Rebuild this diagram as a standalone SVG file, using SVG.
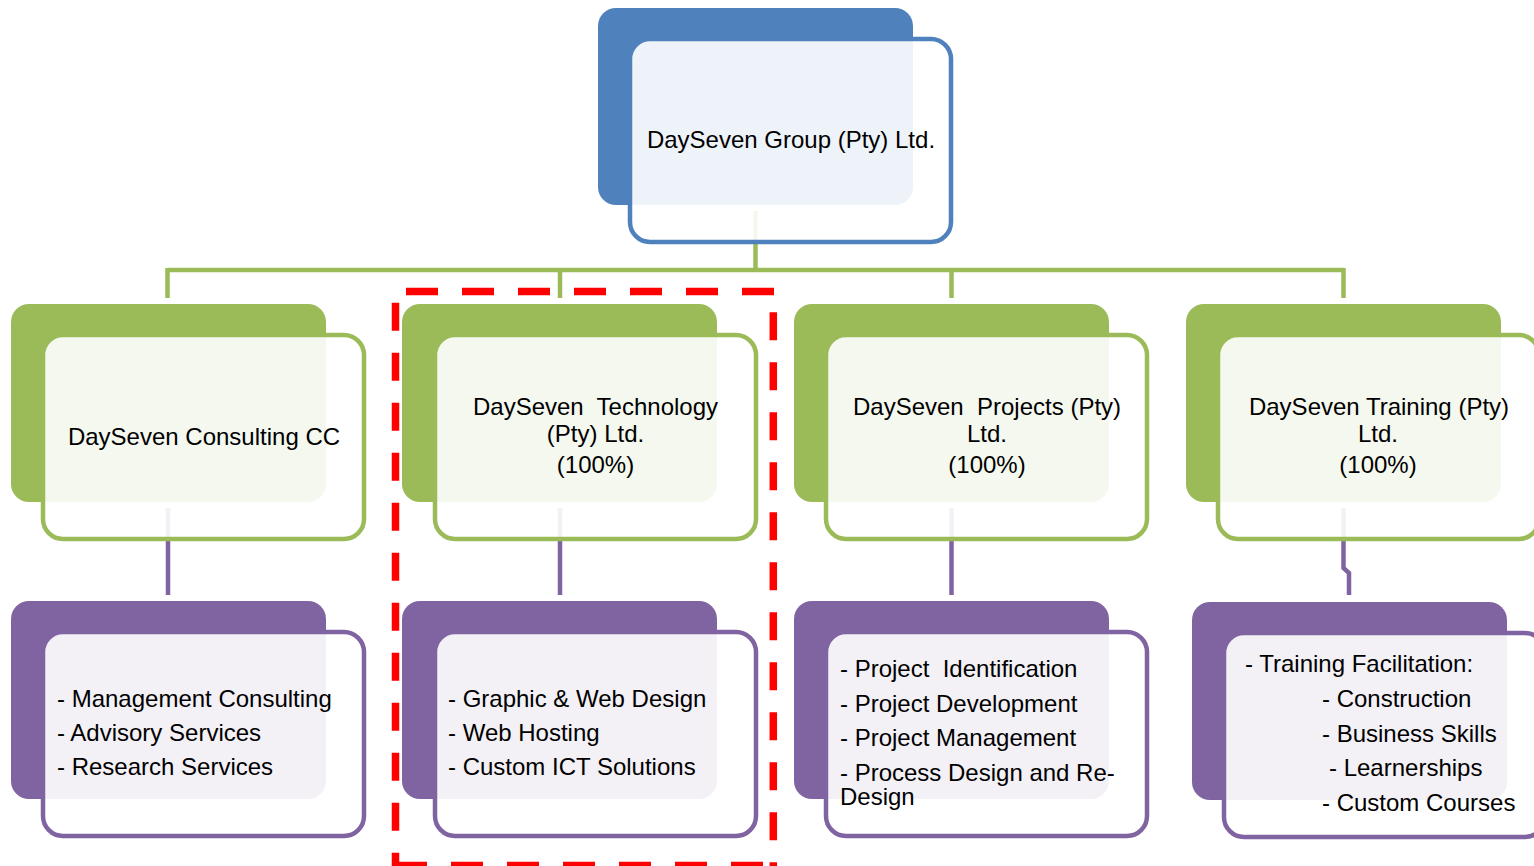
<svg xmlns="http://www.w3.org/2000/svg" width="1534" height="866" viewBox="0 0 1534 866">
<style>
.bg{fill:#FFFFFF}
.bb{fill:#4F81BD}
.fb{fill:#FFFFFF;fill-opacity:0.9;stroke:#4F81BD;stroke-width:4.5}
.bgn{fill:#9BBB59}
.fg{fill:#FFFFFF;fill-opacity:0.9;stroke:#9BBB59;stroke-width:4.5}
.bp{fill:#8064A2}
.fp{fill:#FFFFFF;fill-opacity:0.9;stroke:#8064A2;stroke-width:4.5}
.cg{fill:none;stroke:#9BBB59;stroke-width:4.5}
.cp{fill:none;stroke:#8064A2;stroke-width:4.5}
.t{font-family:"Liberation Sans",Arial,sans-serif;font-size:24px;fill:#000000}
.c{text-anchor:middle}
.red{fill:none;stroke:#FF0000;stroke-width:7.5}
</style>
<rect class="bg" x="0" y="0" width="1534" height="866"/>
<g id="connectors">
<path class="cg" d="M755.5,211 V270 M167.5,270 H1343.5 M167.5,268 V298 M560,270 V298 M951.5,270 V298 M1343.5,268 V298"/>
<path class="cp" d="M168,508 V595 M560,508 V595 M951.5,508 V595 M1343.5,508 V568 L1349,573 V595"/>
</g>
<g id="node-group">
<rect class="bb" x="598" y="8" width="315" height="197" rx="18"/>
<rect class="fb" x="630" y="39" width="321" height="203" rx="20"/>
<text class="t c" x="791" y="148">DaySeven Group (Pty) Ltd.</text>
</g>
<g id="node-consulting">
<rect class="bgn" x="11" y="304" width="315" height="198" rx="18"/>
<rect class="fg" x="43" y="335" width="321" height="204" rx="20"/>
<text class="t c" x="204" y="445">DaySeven Consulting CC</text>
</g>
<g id="node-technology">
<rect class="bgn" x="402" y="304" width="315" height="198" rx="18"/>
<rect class="fg" x="435" y="335" width="321" height="204" rx="20"/>
<text class="t c" x="595.5" y="415" xml:space="preserve">DaySeven  Technology</text>
<text class="t c" x="595.5" y="442">(Pty) Ltd.</text>
<text class="t c" x="595.5" y="473">(100%)</text>
</g>
<g id="node-projects">
<rect class="bgn" x="794" y="304" width="315" height="198" rx="18"/>
<rect class="fg" x="826" y="335" width="321" height="204" rx="20"/>
<text class="t c" x="987" y="415" xml:space="preserve">DaySeven  Projects (Pty)</text>
<text class="t c" x="987" y="442">Ltd.</text>
<text class="t c" x="987" y="473">(100%)</text>
</g>
<g id="node-training">
<rect class="bgn" x="1186" y="304" width="315" height="198" rx="18"/>
<rect class="fg" x="1218" y="335" width="321" height="204" rx="20"/>
<text class="t c" x="1379" y="415">DaySeven Training (Pty)</text>
<text class="t c" x="1378" y="442">Ltd.</text>
<text class="t c" x="1378" y="473">(100%)</text>
</g>
<g id="node-consulting-services">
<rect class="bp" x="11" y="601" width="315" height="198" rx="18"/>
<rect class="fp" x="43" y="632" width="321" height="204" rx="20"/>
<text class="t" x="57" y="707">- Management Consulting</text>
<text class="t" x="57" y="741">- Advisory Services</text>
<text class="t" x="57" y="775">- Research Services</text>
</g>
<g id="node-technology-services">
<rect class="bp" x="402" y="601" width="315" height="198" rx="18"/>
<rect class="fp" x="435" y="632" width="321" height="204" rx="20"/>
<text class="t" x="448" y="707">- Graphic &amp; Web Design</text>
<text class="t" x="448" y="741">- Web Hosting</text>
<text class="t" x="448" y="775">- Custom ICT Solutions</text>
</g>
<g id="node-projects-services">
<rect class="bp" x="794" y="601" width="315" height="198" rx="18"/>
<rect class="fp" x="826" y="632" width="321" height="204" rx="20"/>
<text class="t" x="840" y="677" xml:space="preserve">- Project  Identification</text>
<text class="t" x="840" y="712">- Project Development</text>
<text class="t" x="840" y="746">- Project Management</text>
<text class="t" x="840" y="781">- Process Design and Re-</text>
<text class="t" x="840" y="805">Design</text>
</g>
<g id="node-training-services">
<rect class="bp" x="1192" y="602" width="315" height="198" rx="18"/>
<rect class="fp" x="1224" y="633" width="321" height="204" rx="20"/>
<text class="t" x="1245" y="672">- Training Facilitation:</text>
<text class="t" x="1322" y="707">- Construction</text>
<text class="t" x="1322" y="742">- Business Skills</text>
<text class="t" x="1329" y="776">- Learnerships</text>
<text class="t" x="1322" y="811">- Custom Courses</text>
</g>
<g id="highlight">
<line class="red" x1="406" y1="291.5" x2="778" y2="291.5" stroke-dasharray="32 24"/>
<line class="red" x1="395.5" y1="302.7" x2="395.5" y2="866" stroke-dasharray="28 22"/>
<line class="red" x1="773.3" y1="312.3" x2="773.3" y2="866" stroke-dasharray="28 22"/>
<line class="red" x1="395" y1="865.5" x2="778" y2="865.5" stroke-dasharray="32 24"/>
</g>
</svg>
